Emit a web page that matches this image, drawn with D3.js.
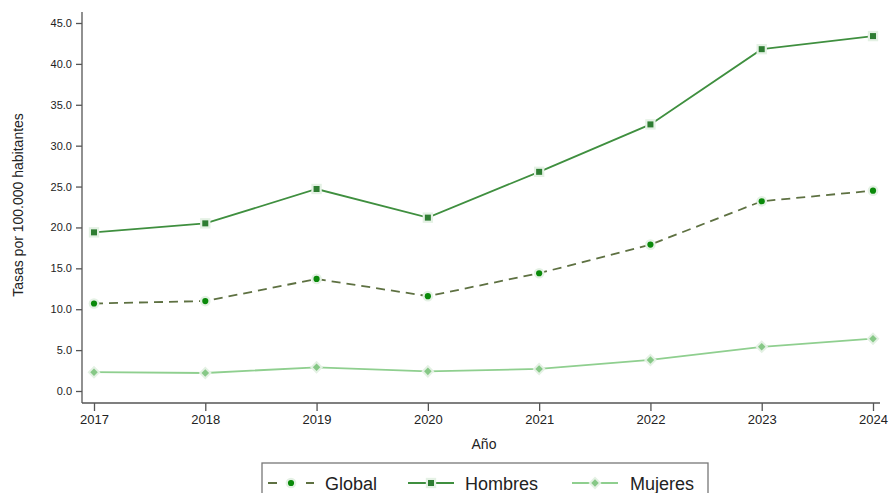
<!DOCTYPE html>
<html>
<head>
<meta charset="utf-8">
<style>
  body { margin: 0; background: #fff; }
  svg text { font-family: "Liberation Sans", Arial, sans-serif; fill: #222; }
  .axis path, .axis line { stroke: #555; stroke-width: 1.3; }
</style>
<script src="https://cdn.jsdelivr.net/npm/d3@7"></script>
</head>
<body>
<svg width="891" height="493"></svg>
<script>
var years = [2017, 2018, 2019, 2020, 2021, 2022, 2023, 2024];
var yTicks = [0, 5, 10, 15, 20, 25, 30, 35, 40, 45];
var global = [10.7, 11.0, 13.7, 11.6, 14.4, 17.9, 23.2, 24.5];
var hombres = [19.4, 20.5, 24.7, 21.2, 26.8, 32.6, 41.8, 43.4];
var mujeres = [2.3, 2.2, 2.9, 2.4, 2.7, 3.8, 5.4, 6.4];

var series = [
  {name: "Global", values: global, line: "#5e7142", marker: "#0a8a0a", dash: "9,6", shape: d3.symbolCircle, size: 30},
  {name: "Hombres", values: hombres, line: "#3f8f3f", marker: "#2e7d32", dash: null, shape: d3.symbolSquare, size: 36},
  {name: "Mujeres", values: mujeres, line: "#8fcf8f", marker: "#86c886", dash: null, shape: d3.symbolDiamond2, size: 36}
];

var svg = d3.select("svg");

var x = d3.scalePoint().domain(years).range([94, 873]);
var y = d3.scaleLinear().domain([0, 45]).range([391, 23]);

// y axis
var yAxis = svg.append("g")
    .attr("class", "axis")
    .attr("transform", "translate(82,0)")
    .call(d3.axisLeft(y).tickValues(yTicks).tickSize(6).tickPadding(4).tickFormat(d3.format(".1f")));
yAxis.select(".domain").attr("d", "M0,12V403");
yAxis.selectAll("text").style("font-size", "11px");

// x axis
var xAxis = svg.append("g")
    .attr("class", "axis")
    .attr("transform", "translate(0,403)")
    .call(d3.axisBottom(x).tickSize(8).tickPadding(4));
xAxis.select(".domain").attr("d", "M82,0H880");
xAxis.selectAll(".tick line").attr("y1", 0).attr("y2", 8);
xAxis.selectAll("text").style("font-size", "13px");

svg.append("text")
    .attr("x", 484).attr("y", 449)
    .attr("text-anchor", "middle")
    .style("font-size", "14px")
    .text("Año");

svg.append("text")
    .attr("transform", "translate(23,205) rotate(-90)")
    .attr("text-anchor", "middle")
    .style("font-size", "14px")
    .text("Tasas por 100.000 habitantes");

var line = d3.line()
    .x(function(d, i) { return x(years[i]); })
    .y(function(d) { return y(d); });

series.forEach(function(s) {
  svg.append("path")
      .datum(s.values)
      .attr("fill", "none")
      .attr("stroke", s.line)
      .attr("stroke-width", 1.8)
      .attr("stroke-dasharray", s.dash)
      .attr("d", line);

  var g = svg.append("g");
  g.selectAll("path.halo")
      .data(s.values)
    .enter().append("path")
      .attr("transform", function(d, i) { return "translate(" + x(years[i]) + "," + y(d) + ")"; })
      .attr("d", d3.symbol().type(s.shape).size(s.size * 3))
      .attr("fill", "#e4f1e4");
  g.selectAll("path.mk")
      .data(s.values)
    .enter().append("path")
      .attr("transform", function(d, i) { return "translate(" + x(years[i]) + "," + y(d) + ")"; })
      .attr("d", d3.symbol().type(s.shape).size(s.size))
      .attr("fill", s.marker);
});

// legend
var leg = svg.append("g");
leg.append("rect")
    .attr("x", 262).attr("y", 463)
    .attr("width", 446).attr("height", 40)
    .attr("fill", "#fff")
    .attr("stroke", "#777")
    .attr("stroke-width", 1.3);

var legX = [268, 408, 572];
var textX = [325, 465, 630];
series.forEach(function(s, i) {
  var cy = 483;
  leg.append("line")
      .attr("x1", legX[i]).attr("x2", legX[i] + 46)
      .attr("y1", cy).attr("y2", cy)
      .attr("stroke", s.line)
      .attr("stroke-width", 1.8)
      .attr("stroke-dasharray", s.dash ? "9,10" : null);
  leg.append("path")
      .attr("transform", "translate(" + (legX[i] + 23) + "," + cy + ")")
      .attr("d", d3.symbol().type(s.shape).size(s.size * 3))
      .attr("fill", "#e4f1e4");
  leg.append("path")
      .attr("transform", "translate(" + (legX[i] + 23) + "," + cy + ")")
      .attr("d", d3.symbol().type(s.shape).size(s.size))
      .attr("fill", s.marker);
  leg.append("text")
      .attr("x", textX[i]).attr("y", cy + 7)
      .style("font-size", "18px")
      .text(s.name);
});
</script>
</body>
</html>
